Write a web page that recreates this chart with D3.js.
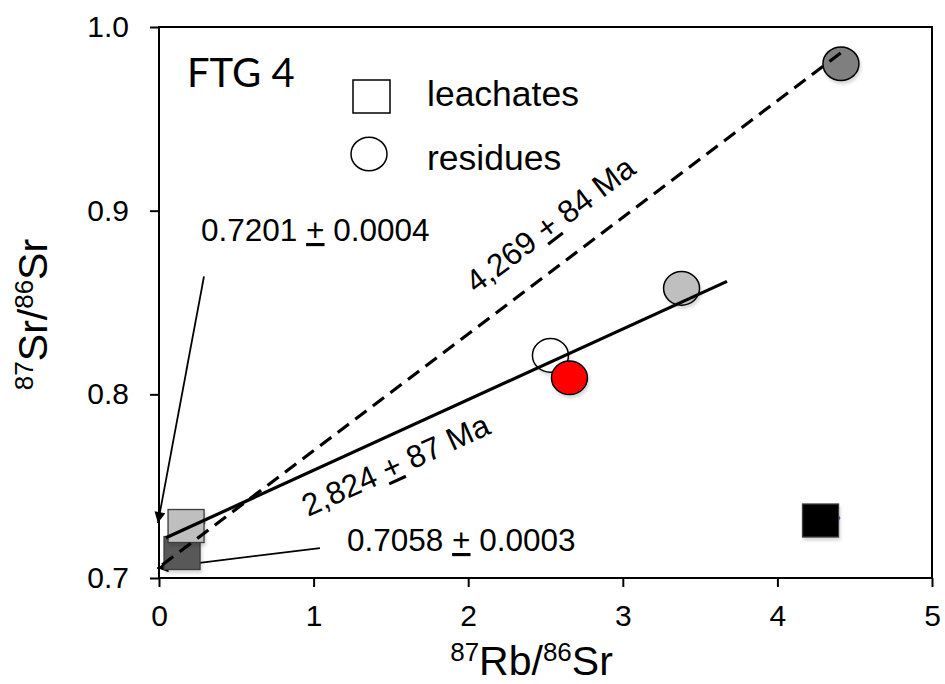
<!DOCTYPE html>
<html>
<head>
<meta charset="utf-8">
<script src="https://cdn.jsdelivr.net/npm/d3@7"></script>
<style>
  html, body { margin: 0; padding: 0; background: #fff; }
  svg text { font-family: "Liberation Sans", Arial, sans-serif; fill: #000; }
</style>
</head>
<body>
<svg id="chart" width="945" height="684"></svg>
<script>
// ---------- data ----------
const xTicks = [0, 1, 2, 3, 4, 5];
const yTicks = [0.7, 0.8, 0.9, 1.0];
const yTickLabels = ["0.7", "0.8", "0.9", "1.0"];

// leachates (squares), drawn in this order
const leachNames = ["L-dark", "L-light", "L-black"];
const leachX = [0.149, 0.175, 4.279];
const leachY = [0.7136, 0.7283, 0.7313];
const leachFill = ["#595959", "#bfbfbf", "#000000"];

// residues (circles), drawn in this order
const resNames = ["R-white", "R-red", "R-lightgray", "R-gray"];
const resX = [2.532, 2.655, 3.380, 4.411];
const resY = [0.8212, 0.8090, 0.8577, 0.9800];
const resFill = ["#ffffff", "#ff0000", "#bfbfbf", "#7f7f7f"];

// hidden default-series markers peeking out
const hiddenX = [0.272, 4.379];
const hiddenY = [0.7299, 0.7327];

// isochrons
const solidLineX = [0.045, 3.674];
const solidLineY = [0.7219, 0.8615];
const dashedLineX = [0.02, 4.418];
const dashedLineY = [0.7071, 0.9864];

// intercept arrows: [fromX, fromY, toX, toY]
const arrow1 = [0.291, 0.8642, -0.007, 0.7299];
const arrow2 = [1.041, 0.7163, -0.012, 0.7054];

const sampleLabel = "FTG 4";
const legendLabels = ["leachates", "residues"];
const interceptLabels = [["0.7201 ", "+", " 0.0004"], ["0.7058 ", "+", " 0.0003"]];
const ageLabels = [["4,269 ", "+", " 84 Ma"], ["2,824 ", "+", " 87 Ma"]];

// ---------- setup ----------
const svg = d3.select("#chart");
const x = d3.scaleLinear().domain([0, 5]).range([159, 932]);
const y = d3.scaleLinear().domain([0.7, 1.0]).range([578, 27]);

const defs = svg.append("defs");
defs.append("marker")
  .attr("id", "arrow")
  .attr("viewBox", "0 0 10 10")
  .attr("refX", 10).attr("refY", 5)
  .attr("markerUnits", "userSpaceOnUse")
  .attr("markerWidth", 16).attr("markerHeight", 11)
  .attr("orient", "auto")
  .append("path").attr("d", "M0,0 L10,5 L0,10 z").attr("fill", "#000");

const sh = defs.append("filter").attr("id", "shadow")
  .attr("x", "-30%").attr("y", "-30%").attr("width", "170%").attr("height", "170%");
sh.append("feDropShadow").attr("dx", 1.5).attr("dy", 3).attr("stdDeviation", 1.8)
  .attr("flood-color", "#000").attr("flood-opacity", 0.15);

// ---------- axes ----------
const xAxis = d3.axisBottom(x).tickValues(xTicks).tickFormat(d3.format("d"))
  .tickSizeInner(9).tickSizeOuter(0).tickPadding(18);
const gx = svg.append("g").attr("transform", `translate(0,${y(0.7)})`).call(xAxis);
gx.select(".domain").remove();
gx.selectAll("line").attr("stroke", "#000").attr("stroke-width", 2);
gx.selectAll("text").attr("font-size", 30).attr("font-family", "Liberation Sans, Arial, sans-serif").attr("fill", "#000");

const yAxis = d3.axisLeft(y).tickValues(yTicks).tickFormat((d, i) => yTickLabels[i])
  .tickSizeInner(9).tickSizeOuter(0).tickPadding(21);
const gy = svg.append("g").attr("transform", `translate(${x(0)},0)`).call(yAxis);
gy.select(".domain").remove();
gy.selectAll("line").attr("stroke", "#000").attr("stroke-width", 2);
gy.selectAll("text").attr("font-size", 30).attr("font-family", "Liberation Sans, Arial, sans-serif").attr("fill", "#000");

// frame
svg.append("rect")
  .attr("x", x(0)).attr("y", y(1.0))
  .attr("width", x(5) - x(0)).attr("height", y(0.7) - y(1.0))
  .attr("fill", "none").attr("stroke", "#000").attr("stroke-width", 2);

// axis titles
const yt = svg.append("text")
  .attr("transform", `translate(47,${(y(0.7) + y(1.0)) / 2 + 12}) rotate(-90)`)
  .attr("text-anchor", "middle").attr("font-size", 41);
yt.append("tspan").attr("font-size", 26).attr("dy", -14).text("87");
yt.append("tspan").attr("dy", 14).text("Sr/");
yt.append("tspan").attr("font-size", 26).attr("dy", -14).text("86");
yt.append("tspan").attr("dy", 14).text("Sr");

const xt = svg.append("text")
  .attr("x", (x(0) + x(5)) / 2 - 14).attr("y", 675)
  .attr("text-anchor", "middle").attr("font-size", 41);
xt.append("tspan").attr("font-size", 26).attr("dy", -14).text("87");
xt.append("tspan").attr("dy", 14).text("Rb/");
xt.append("tspan").attr("font-size", 26).attr("dy", -14).text("86");
xt.append("tspan").attr("dy", 14).text("Sr");

// ---------- arrows (behind points) ----------
[arrow1, arrow2].forEach(a => {
  svg.append("line")
    .attr("x1", x(a[0])).attr("y1", y(a[1]))
    .attr("x2", x(a[2])).attr("y2", y(a[3]))
    .attr("stroke", "#000").attr("stroke-width", 1.8)
    .attr("marker-end", "url(#arrow)");
});

// ---------- hidden markers ----------
svg.selectAll("path.hidden").data(hiddenX).join("path")
  .attr("class", "hidden")
  .attr("d", d3.symbol(d3.symbolDiamond, 70))
  .attr("transform", (d, i) => `translate(${x(d)},${y(hiddenY[i])})`)
  .attr("fill", "#4472c4");

// ---------- leachates ----------
const sqW = 36, sqH = 33;
svg.selectAll("rect.leach").data(leachX).join("rect")
  .attr("class", "leach")
  .attr("x", d => x(d) - sqW / 2)
  .attr("y", (d, i) => y(leachY[i]) - sqH / 2)
  .attr("width", sqW).attr("height", sqH)
  .attr("fill", (d, i) => leachFill[i])
  .attr("stroke", "#3a3a3a").attr("stroke-width", 1.3)
  .attr("filter", "url(#shadow)");

// ---------- residues ----------
svg.selectAll("ellipse.res").data(resX).join("ellipse")
  .attr("class", "res")
  .attr("cx", d => x(d))
  .attr("cy", (d, i) => y(resY[i]))
  .attr("rx", 18).attr("ry", 16.8)
  .attr("fill", (d, i) => resFill[i])
  .attr("stroke", "#000").attr("stroke-width", 1.5)
  .attr("filter", "url(#shadow)");

// ---------- isochrons ----------
const line = d3.line().x(d => x(d[0])).y(d => y(d[1]));
svg.append("path")
  .attr("d", line(dashedLineX.map((d, i) => [d, dashedLineY[i]])))
  .attr("fill", "none").attr("stroke", "#000").attr("stroke-width", 3.2)
  .attr("stroke-dasharray", "14,8");
svg.append("path")
  .attr("d", line(solidLineX.map((d, i) => [d, solidLineY[i]])))
  .attr("fill", "none").attr("stroke", "#000").attr("stroke-width", 3.2);

// ---------- text labels ----------
svg.append("text").attr("x", 187).attr("y", 87)
  .attr("font-family", "Lato, 'Open Sans', sans-serif").style("font-family", "Lato, 'Open Sans', sans-serif")
  .attr("font-size", 40).text(sampleLabel);

// legend
svg.append("rect").attr("x", 353).attr("y", 80).attr("width", 37).attr("height", 33)
  .attr("fill", "#fff").attr("stroke", "#000").attr("stroke-width", 1.5);
svg.append("ellipse").attr("cx", 369).attr("cy", 154).attr("rx", 18).attr("ry", 16.8)
  .attr("fill", "#fff").attr("stroke", "#000").attr("stroke-width", 1.5);
svg.append("text").attr("x", 427).attr("y", 106).attr("font-size", 35.5).text(legendLabels[0]);
svg.append("text").attr("x", 427).attr("y", 170).attr("font-size", 35.5).text(legendLabels[1]);

function pmText(g, parts) {
  g.append("tspan").text(parts[0]);
  g.append("tspan").style("text-decoration", "underline").text(parts[1]);
  g.append("tspan").text(parts[2]);
}
pmText(svg.append("text").attr("x", 201).attr("y", 241).attr("font-size", 31.5), interceptLabels[0]);
pmText(svg.append("text").attr("x", 347).attr("y", 551).attr("font-size", 31.5), interceptLabels[1]);

pmText(svg.append("text").attr("transform", "translate(476,294) rotate(-37)").attr("font-size", 31.5), ageLabels[0]);
pmText(svg.append("text").attr("transform", "translate(308,517) rotate(-24.5)").attr("font-size", 31.5), ageLabels[1]);
</script>
</body>
</html>
